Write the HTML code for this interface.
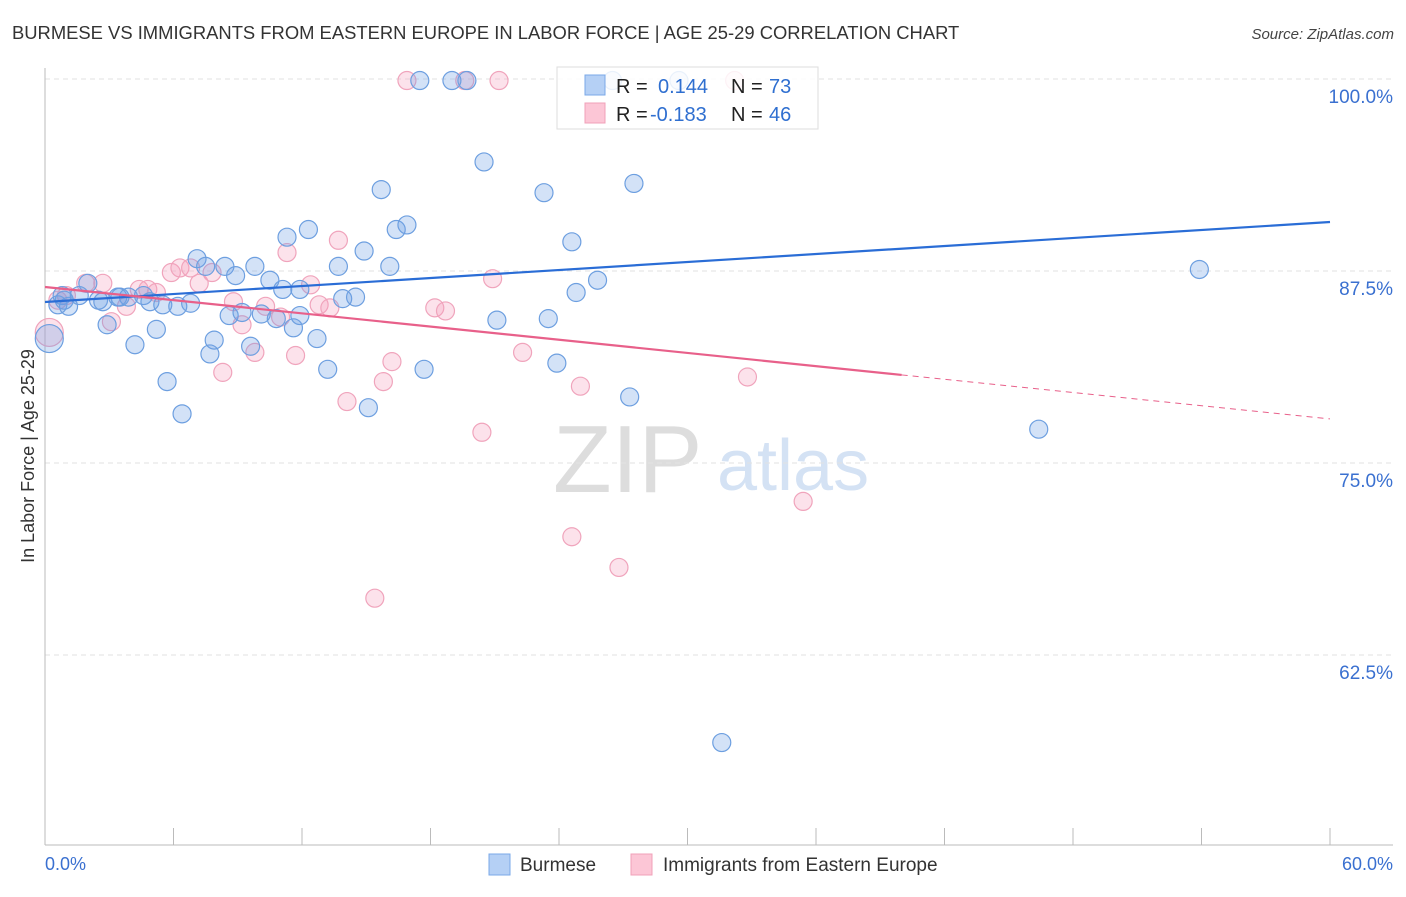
<!DOCTYPE html>
<html><head><meta charset="utf-8"><style>
body{margin:0;background:#fff;font-family:"Liberation Sans",sans-serif}
svg text{font-family:"Liberation Sans",sans-serif}
</style></head><body>
<svg id="chart" width="1406" height="892" xmlns="http://www.w3.org/2000/svg">
<text x="12" y="39" font-size="18.4" fill="#333">BURMESE VS IMMIGRANTS FROM EASTERN EUROPE IN LABOR FORCE | AGE 25-29 CORRELATION CHART</text>
<text x="1394" y="39" font-size="15" fill="#444" text-anchor="end" font-style="italic">Source: ZipAtlas.com</text>
<g>
<text x="553" y="492" font-size="96" fill="#ddd" font-family="Liberation Serif">ZIP</text>
<text x="717" y="490" font-size="72" fill="#d4e2f4">atlas</text>
</g>
<g id="grid"></g>
<g id="axes"></g>
<g id="points"></g>
<g id="trends"></g>
<text transform="translate(34,456) rotate(-90)" font-size="18" fill="#333" text-anchor="middle">In Labor Force | Age 25-29</text>
<g>
<rect x="557" y="67" width="261" height="62" fill="#fff" fill-opacity="0.85" stroke="#ddd"/>
<rect x="585" y="75" width="20" height="20" fill="#b5d0f5" stroke="#7aa8e8"/>
<rect x="585" y="103" width="20" height="20" fill="#fcc6d6" stroke="#f0a0b8"/>
<text x="616" y="93" font-size="20" fill="#222">R = </text><text x="658" y="93" font-size="20" fill="#2f6fd0">0.144</text>
<text x="731" y="93" font-size="20" fill="#222">N = </text><text x="769" y="93" font-size="20" fill="#2f6fd0">73</text>
<text x="616" y="121" font-size="20" fill="#222">R = </text><text x="650" y="121" font-size="20" fill="#2f6fd0">-0.183</text>
<text x="731" y="121" font-size="20" fill="#222">N = </text><text x="769" y="121" font-size="20" fill="#2f6fd0">46</text>
</g>
<g>
<rect x="489" y="854" width="21" height="21" fill="#b5d0f5" stroke="#7aa8e8"/>
<text x="520" y="871" font-size="19" fill="#333">Burmese</text>
<rect x="631" y="854" width="21" height="21" fill="#fcc6d6" stroke="#f0a0b8"/>
<text x="663" y="871" font-size="19" fill="#333">Immigrants from Eastern Europe</text>
</g>
</svg>
<script>
const yTicks=[100,87.5,75,62.5];
const yTickLabels=["100.0%","87.5%","75.0%","62.5%"];
const xTickLabels=["0.0%","60.0%"];
const burmeseX=[0.2,0.6,0.8,1.1,1.6,2.0,2.5,2.7,2.9,3.4,3.9,4.2,4.6,4.9,5.2,5.5,5.7,6.2,6.4,6.8,7.1,7.5,7.7,7.9,8.4,8.6,8.9,9.2,9.6,9.8,10.1,10.5,10.8,11.1,11.3,11.6,11.9,12.3,12.7,13.2,13.7,13.9,14.5,14.9,15.1,15.7,16.1,16.4,16.9,17.5,17.7,19.0,19.7,20.5,21.1,23.3,23.5,23.9,24.6,24.8,25.8,26.5,27.3,27.5,29.6,31.6,46.4,53.9,0.9,3.5,11.9];
const burmeseY=[83.1,85.3,85.9,85.2,85.9,86.7,85.6,85.5,84.0,85.8,85.8,82.7,85.9,85.5,83.7,85.3,80.3,85.2,78.2,85.4,88.3,87.8,82.1,83.0,87.8,84.6,87.2,84.8,82.6,87.8,84.7,86.9,84.4,86.3,89.7,83.8,84.6,90.2,83.1,81.1,87.8,85.7,85.8,88.8,78.6,92.8,87.8,90.2,90.5,99.9,81.1,99.9,99.9,94.6,84.3,92.6,84.4,81.5,89.4,86.1,86.9,99.9,79.3,93.2,99.9,56.8,77.2,87.6,85.6,85.8,86.3];
const easternX=[0.2,0.6,1.0,1.9,2.7,3.1,3.8,4.4,4.8,5.2,5.9,6.3,6.8,7.2,7.8,8.3,8.8,9.2,9.8,10.3,11.0,11.3,11.7,12.4,12.8,13.3,13.7,14.1,15.4,15.8,16.2,16.9,18.2,18.7,19.6,20.4,20.9,21.2,22.3,24.6,25.0,26.8,32.2,32.8,35.4];
const easternY=[83.5,85.6,85.9,86.7,86.7,84.2,85.2,86.3,86.3,86.1,87.4,87.7,87.7,86.7,87.4,80.9,85.5,84.0,82.2,85.2,84.5,88.7,82.0,86.6,85.3,85.1,89.5,79.0,66.2,80.3,81.6,99.9,85.1,84.9,99.9,77.0,87.0,99.9,82.2,70.2,80.0,68.2,99.9,80.6,72.5];
const burmeseTrend=[85.48,90.69];
const easternTrend=[86.46,77.87];
const easternSolidEnd=40;
const NS="http://www.w3.org/2000/svg";
const X=v=>45+v/60*1285, Y=v=>79+(100-v)/12.5*192;
function mk(parent,tag,attrs){const e=document.createElementNS(NS,tag);for(const k in attrs)e.setAttribute(k,attrs[k]);document.getElementById(parent).appendChild(e);return e;}
yTicks.forEach((t,i)=>{
 const g=mk('grid','line',{x1:45,x2:1393,y1:Y(t),y2:Y(t),stroke:'#e2e2e2','stroke-dasharray':'5,4'});
 
 
 const l=mk('axes','text',{x:1393,y:Y(t)+24,'font-size':19,fill:'#3a70d0','text-anchor':'end'});
 l.textContent=yTickLabels[i];
 
 
});
let a=mk('axes','line',{x1:45,x2:45,y1:68,y2:845,stroke:'#bbb'});


a=mk('axes','line',{x1:45,x2:1393,y1:845,y2:845,stroke:'#bbb'});


for(let i=0;i<=10;i++){
 const t=mk('axes','line',{x1:X(i*6),x2:X(i*6),y1:828,y2:845,stroke:'#bbb'});
 
 
}
let xl=mk('axes','text',{x:45,y:870,'font-size':18,fill:'#3a70d0'});xl.textContent=xTickLabels[0];


xl=mk('axes','text',{x:1393,y:870,'font-size':18,fill:'#3a70d0','text-anchor':'end'});xl.textContent=xTickLabels[1];


easternX.forEach((x,i)=>{
 const c=mk('points','circle',{cx:X(x),cy:Y(easternY[i]),r:i==0?14:9,fill:'rgba(245,160,190,0.3)',stroke:'#f0a4bc','stroke-width':1.2});
 
 
});
burmeseX.forEach((x,i)=>{
 const c=mk('points','circle',{cx:X(x),cy:Y(burmeseY[i]),r:i==0?14:9,fill:'rgba(110,160,230,0.3)',stroke:'#6d9fe0','stroke-width':1.2});
 
 
});
let t=mk('trends','line',{x1:X(0),y1:Y(burmeseTrend[0]),x2:X(60),y2:Y(burmeseTrend[1]),stroke:'#2a6dd6','stroke-width':2.2});


const ey=x=>easternTrend[0]+(easternTrend[1]-easternTrend[0])*x/60;
t=mk('trends','line',{x1:X(0),y1:Y(ey(0)),x2:X(easternSolidEnd),y2:Y(ey(easternSolidEnd)),stroke:'#e8608a','stroke-width':2.2});


t=mk('trends','line',{x1:X(easternSolidEnd),y1:Y(ey(easternSolidEnd)),x2:X(60),y2:Y(ey(60)),stroke:'#e8608a','stroke-width':1,'stroke-dasharray':'6,5'});


</script>
</body></html>
